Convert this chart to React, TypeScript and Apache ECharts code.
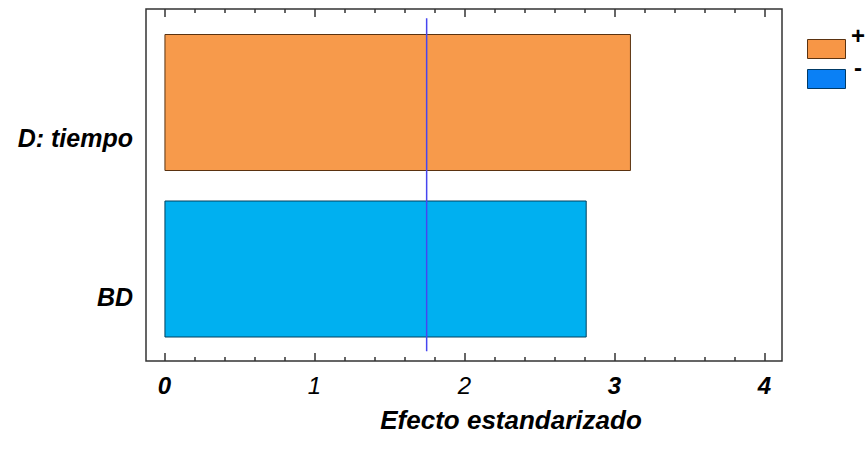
import React, { useEffect, useRef } from "react";
import * as echarts from "echarts";

// Data
const categories: string[] = ["BD", "D: tiempo"];
const positiveEffects: (number | null)[] = [null, 3.11]; // "+"
const negativeEffects: (number | null)[] = [2.815, null]; // "-"
const criticalValue = 1.748;
const majorTicks: number[] = [0, 1, 2, 3, 4];
const minorTicks: number[] = [0.2, 0.4, 0.6, 0.8, 1.2, 1.4, 1.6, 1.8, 2.2, 2.4, 2.6, 2.8, 3.2, 3.4, 3.6, 3.8];
const heavyTickLabels: number[] = [0, 3, 4];
const legendNames: string[] = ["+", "-"];
const legendColors: string[] = ["#F79646", "#0A80F5"];
const legendBorders: string[] = ["#5a3210", "#003a66"];
const xTitle = "Efecto estandarizado";

const FONT = "'Liberation Sans', Arial, sans-serif";
const X_MIN = -0.123;
const X_MAX = 4.117;

export default function App() {
  const ref = useRef<HTMLDivElement>(null);
  useEffect(() => {
    if (!ref.current) return;
    const chart = echarts.init(ref.current, undefined, { renderer: "svg" });
    const tickStyle = { color: "#333", width: 1.5 };
    const baseX = {
      type: "value",
      gridIndex: 0,
      min: X_MIN,
      max: X_MAX,
      axisLine: { show: false },
      splitLine: { show: false },
    };
    const labelFont = { fontFamily: FONT, fontSize: 25, fontWeight: "bold", fontStyle: "italic", color: "#000" };

    const legendGraphics: any[] = [];
    legendNames.forEach((name, i) => {
      const top = 39 + i * 30;
      legendGraphics.push({
        type: "rect",
        left: 807,
        top,
        shape: { width: 38, height: 19 },
        style: { fill: legendColors[i], stroke: legendBorders[i], lineWidth: 1 },
      });
      legendGraphics.push({
        type: "text",
        x: i === 0 ? 851 : 854,
        y: i === 0 ? 35 : 67,
        style: {
          text: name,
          fontFamily: FONT,
          fontSize: 24,
          fontWeight: "bold",
          fill: "#000",
          verticalAlign: "middle",
          align: "left",
        },
      });
    });

    const option: any = {
      animation: false,
      backgroundColor: "#fff",
      grid: [
        {
          show: true,
          left: 146,
          top: 9,
          right: 83,
          bottom: 103,
          borderColor: "#333",
          borderWidth: 1.5,
          backgroundColor: "transparent",
        },
        { left: 146, right: 83, top: 19.25, bottom: 111.75 },
      ],
      graphic: legendGraphics,
      xAxis: [
        {
          ...baseX,
          position: "bottom",
          axisTick: { show: true, inside: true, length: 8, customValues: majorTicks, lineStyle: tickStyle },
          axisLabel: {
            customValues: majorTicks,
            margin: 12,
            formatter: (v: number) => (heavyTickLabels.includes(v) ? `{b|${v}}` : `{n|${v}}`),
            rich: {
              b: { fontFamily: FONT, fontSize: 24, fontWeight: "bold", fontStyle: "italic", color: "#000" },
              n: { fontFamily: FONT, fontSize: 24, fontStyle: "italic", color: "#000" },
            },
          },
          name: xTitle,
          nameLocation: "middle",
          nameGap: 46,
          nameTextStyle: { ...labelFont, fontSize: 26, padding: [0, 0, 0, 94] },
        },
        {
          ...baseX,
          position: "bottom",
          axisTick: { show: true, inside: true, length: 4, customValues: minorTicks, lineStyle: tickStyle },
          axisLabel: { show: false },
        },
        {
          ...baseX,
          position: "top",
          axisTick: { show: true, inside: true, length: 8, customValues: majorTicks, lineStyle: tickStyle },
          axisLabel: { show: false },
        },
        {
          ...baseX,
          position: "top",
          axisTick: { show: true, inside: true, length: 4, customValues: minorTicks, lineStyle: tickStyle },
          axisLabel: { show: false },
        },
        {
          type: "value",
          gridIndex: 1,
          min: X_MIN,
          max: X_MAX,
          show: false,
        },
      ],
      yAxis: [
        { type: "value", gridIndex: 0, min: 0, max: 1, show: false },
        {
          type: "category",
          gridIndex: 1,
          data: categories,
          axisLine: { show: false },
          axisTick: { show: false },
          splitLine: { show: false },
          axisLabel: {
            margin: 13,
            formatter: (v: string) => (v === categories[1] ? `{t|${v}}` : `{s|${v}}`),
            rich: {
              t: { ...labelFont, padding: [71, 0, 0, 0] },
              s: { ...labelFont, padding: [56, 0, 0, 0] },
            },
          },
        },
      ],
      series: [
        {
          name: legendNames[0],
          type: "bar",
          xAxisIndex: 4,
          yAxisIndex: 1,
          stack: "effects",
          barWidth: 137,
          data: positiveEffects,
          itemStyle: { color: "#F79A4B", borderColor: "#5a3210", borderWidth: 1 },
        },
        {
          name: legendNames[1],
          type: "bar",
          xAxisIndex: 4,
          yAxisIndex: 1,
          stack: "effects",
          barWidth: 137,
          data: negativeEffects,
          itemStyle: { color: "#00B0F0", borderColor: "#00405e", borderWidth: 1 },
        },
        {
          name: "ref",
          type: "line",
          xAxisIndex: 0,
          yAxisIndex: 0,
          symbol: "none",
          data: [
            [criticalValue, 0.028],
            [criticalValue, 0.974],
          ],
          lineStyle: { color: "#4646F0", width: 1.5 },
          z: 5,
        },
      ],
    };
    chart.setOption(option);
    return () => chart.dispose();
  }, []);
  return (
    <div
      ref={ref}
      style={{ position: "fixed", left: 0, top: 0, width: 865, height: 464 }}
    />
  );
}
